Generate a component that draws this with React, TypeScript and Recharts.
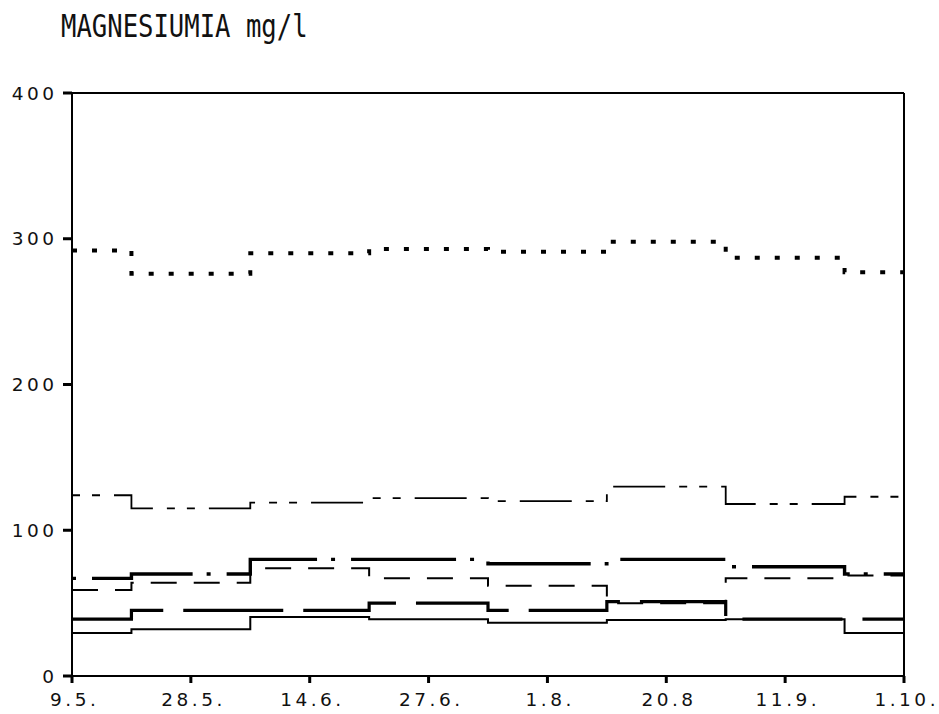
import { Line, LineChart, ReferenceLine, XAxis, YAxis } from 'recharts'

// sampling dates (evenly spaced on the plot)
const dates = ['9.5.', '28.5.', '14.6.', '27.6.', '1.8.', '20.8', '11.9.', '1.10.']
const yTicks = [0, 100, 200, 300, 400]

// mg/l, one value per date
const dotted = [292, 276, 290, 293, 291, 298, 287, 277]
const dashDotThin = [124, 115, 119, 122, 120, 130, 118, 123]
const dashDotThick = [67, 70, 80, 80, 77, 80, 75, 70]
const longDashThin = [59, 64, 74, 67, 62, 50, 67, 69]
const dashThick = [39, 45, 45, 50, 45, 51, 39, 39]
const solidThin = [29.5, 32, 40.5, 39, 36.5, 38.5, 39, 29.5]

const data = dates.map((date, i) => ({
  date,
  dotted: dotted[i],
  dashDotThin: dashDotThin[i],
  dashDotThick: dashDotThick[i],
  longDashThin: longDashThin[i],
  dashThick: dashThick[i],
  solidThin: solidThin[i],
}))

// plotter-style lettering: wide digits, roomy spacing
const LS = 3.5
const tickFont = {
  fontFamily: '"DejaVu Sans", sans-serif',
  fontSize: 18.5,
  letterSpacing: LS,
  fill: '#111',
}

const XTick = ({ x, y, payload }: any) => (
  <text x={x + LS / 2 + 1} y={y} dy="0.71em" textAnchor="middle" {...tickFont}>
    {payload.value}
  </text>
)

const YTick = ({ x, y, payload }: any) => (
  <text x={x + LS} y={y} dy="0.36em" textAnchor="end" {...tickFont}>
    {payload.value}
  </text>
)

export default function App() {
  return (
    <div style={{ position: 'absolute', left: 0, top: 0, width: 939, height: 714, background: '#fff' }}>
      <div
        style={{
          position: 'absolute',
          left: 61,
          top: 11,
          fontFamily: '"DejaVu Sans Mono", monospace',
          fontSize: 25.6,
          color: '#111',
          transform: 'scale(1, 1.25)',
          transformOrigin: 'left top',
          whiteSpace: 'nowrap',
          lineHeight: 1,
        }}
      >
        MAGNESIUMIA mg/l
      </div>
      <LineChart
        width={939}
        height={714}
        data={data}
        margin={{ top: 93, right: 35, left: 0, bottom: 0 }}
      >
        <XAxis
          dataKey="date"
          interval={0}
          height={38}
          padding={{ left: 0, right: 0 }}
          tick={<XTick />}
          tickSize={7}
          tickMargin={10}
          axisLine={{ stroke: '#000', strokeWidth: 2 }}
          tickLine={{ stroke: '#000', strokeWidth: 3 }}
        />
        <YAxis
          domain={[0, 400]}
          ticks={yTicks}
          width={72}
          tick={<YTick />}
          tickSize={9}
          tickMargin={9}
          axisLine={{ stroke: '#000', strokeWidth: 2 }}
          tickLine={{ stroke: '#000', strokeWidth: 3 }}
        />
        <ReferenceLine y={400} stroke="#000" strokeWidth={2} />
        <ReferenceLine x="1.10." stroke="#000" strokeWidth={2} />

        <Line type="step" dataKey="solidThin" stroke="#000" strokeWidth={2} dot={false} isAnimationActive={false} />
        <Line type="step" dataKey="dashThick" stroke="#000" strokeWidth={3.2} strokeDasharray="100 20" dot={false} isAnimationActive={false} />
        <Line type="step" dataKey="longDashThin" stroke="#000" strokeWidth={2} strokeDasharray="26 17" dot={false} isAnimationActive={false} />
        <Line type="step" dataKey="dashDotThick" stroke="#000" strokeWidth={3.4} strokeDasharray="4 16 105 14" dot={false} isAnimationActive={false} />
        <Line type="step" dataKey="dashDotThin" stroke="#000" strokeWidth={1.8} strokeDasharray="8 12 8 14 52 14" dot={false} isAnimationActive={false} />
        <Line type="step" dataKey="dotted" stroke="#000" strokeWidth={4} strokeDasharray="5 15" dot={false} isAnimationActive={false} />
      </LineChart>
    </div>
  )
}
